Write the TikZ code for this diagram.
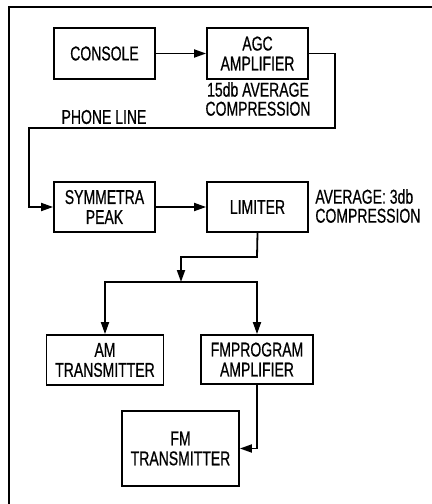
\documentclass[tikz,border=0pt]{standalone}
\usepackage{fontspec}
\newfontfamily\blockfont{Liberation Sans}[FakeStretch=0.7, FakeBold=0.6]
\usepackage{tikz}
\usetikzlibrary{arrows.meta, positioning, calc}

\tikzset{
  blockbox/.style={draw, line width=0.9pt, inner sep=0pt, align=center,
    font=\blockfont\fontsize{10}{10}\selectfont},
  note/.style={inner sep=0pt, font=\blockfont\fontsize{10}{9.5}\selectfont},
  sig/.style={line width=0.9pt, -{Triangle[length=6pt,width=4pt]}}
}

\begin{document}
\begin{tikzpicture}[x=0.5pt, y=-0.5pt]
  \useasboundingbox (0,0) rectangle (432,504);

  % outer frame (cut at right and bottom)
  \draw[line width=1.2pt] (9,504) -- (9,7) -- (432,7);

  % studio end
  \node[blockbox, minimum width=50.5pt, minimum height=25.5pt] (console) at (104.5,53.5) {CONSOLE};
  \node[blockbox, minimum width=50.5pt, minimum height=25.5pt] (agc) at (257.5,53.5) {AGC\\AMPLIFIER};
  \node[note, align=center] (agcnote) at (258,99) {15db AVERAGE\\COMPRESSION};
  \node[note] (phone) at (104,117) {PHONE LINE};

  % transmitter end
  \node[blockbox, minimum width=50.5pt, minimum height=25pt] (sym) at (104.5,207) {SYMMETRA\\PEAK};
  \node[blockbox, minimum width=50.5pt, minimum height=25pt] (lim) at (257.5,207) {LIMITER};
  \node[note, align=left, anchor=west] (limnote) at (315,206) {AVERAGE: 3db\\COMPRESSION};

  \node[blockbox, minimum width=58.5pt, minimum height=25pt] (am) at (105,360) {AM\\TRANSMITTER};
  \node[blockbox, minimum width=56pt, minimum height=24.5pt] (fmp) at (257,359.5) {FMPROGRAM\\AMPLIFIER};
  \node[blockbox, minimum width=58.5pt, minimum height=37.5pt] (fmt) at (180.5,448.5) {FM\\TRANSMITTER};

  \coordinate (split) at (181,282);

  % signal path
  \draw[sig] (console.east) -- (agc.west);
  \draw[sig] (agc.east) -- ++(26,0) |- (29,128) |- (sym.west);
  \draw[sig] (sym.east) -- (lim.west);
  \draw[sig] (lim.south) -- (257,257) -| (split);
  \draw[sig] (split) -| (am.north);
  \draw[sig] (split) -| (fmp.north);
  \draw[sig] (fmp.south) |- (fmt.east);

\end{tikzpicture}
\end{document}
